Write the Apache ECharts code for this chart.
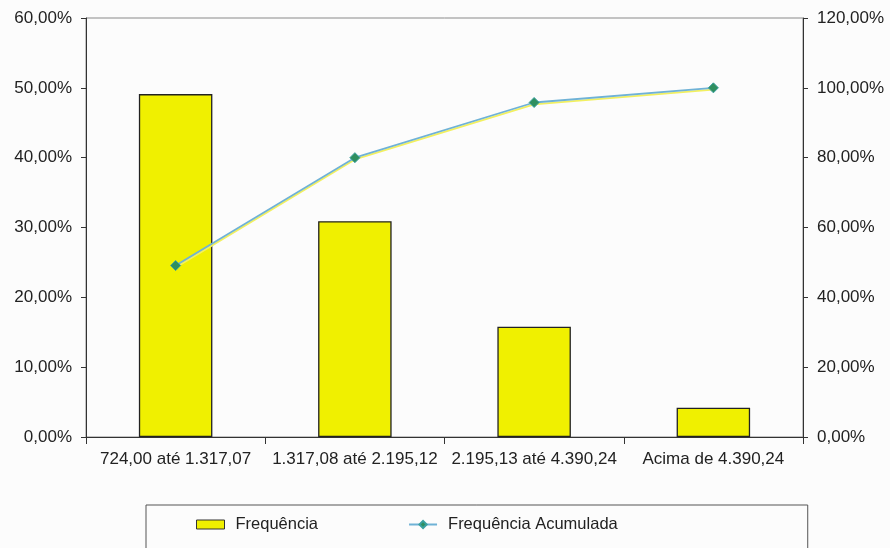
<!DOCTYPE html>
<html>
<head>
<meta charset="utf-8">
<script src="https://cdn.jsdelivr.net/npm/echarts@6/dist/echarts.min.js"></script>
<style>html,body{margin:0;padding:0;background:#fcfcfc}#c{width:890px;height:548px}</style>
</head>
<body>
<div id="c"></div>
<script>
const categories = ['724,00 até 1.317,07', '1.317,08 até 2.195,12', '2.195,13 até 4.390,24', 'Acima de 4.390,24'];
const frequencia = [49.1, 30.9, 15.8, 4.2];
const acumulada = [49.1, 80.0, 95.8, 100.0];
const leftTicks = [0, 10, 20, 30, 40, 50, 60];
const rightTicks = [0, 20, 40, 60, 80, 100, 120];

const fmt = v => v.toFixed(2).replace('.', ',') + '%';
const font = 'Liberation Sans, Arial, sans-serif';
const chart = echarts.init(document.getElementById('c'), null, {renderer: 'canvas'});
chart.setOption({
  backgroundColor: '#fcfcfc',
  animation: false,
  grid: {left: 86, right: 87, top: 18, bottom: 111, show: true, borderColor: '#8a8a8a', borderWidth: 1, backgroundColor: 'transparent'},
  legend: {
    left: 146, top: 505,
    padding: [11, 190, 30, 50],
    itemGap: 90,
    borderColor: '#555', borderWidth: 1,
    textStyle: {fontFamily: font, fontSize: 16.5, color: '#222', padding: [0, 0, 0, 6]},
    data: [
      {name: 'Frequência', icon: 'rect', itemStyle: {color: '#f0f000', borderColor: '#333', borderWidth: 1}},
      {name: 'Frequência Acumulada'}
    ],
    itemWidth: 28, itemHeight: 9
  },
  xAxis: {
    type: 'category', data: categories,
    axisLine: {lineStyle: {color: '#333', width: 1}},
    axisTick: {show: true, length: 7, lineStyle: {color: '#333'}},
    axisLabel: {fontFamily: font, fontSize: 17, color: '#222', margin: 14, interval: 0}
  },
  yAxis: [
    {type: 'value', min: leftTicks[0], max: leftTicks[leftTicks.length - 1], interval: 10,
     axisLine: {show: true, lineStyle: {color: '#333'}},
     axisTick: {show: true, length: 5, lineStyle: {color: '#333'}},
     splitLine: {show: false},
     axisLabel: {formatter: fmt, fontFamily: font, fontSize: 17, color: '#222', margin: 14}},
    {type: 'value', min: rightTicks[0], max: rightTicks[rightTicks.length - 1], interval: 20,
     position: 'right',
     axisLine: {show: true, lineStyle: {color: '#333'}},
     axisTick: {show: true, length: 5, lineStyle: {color: '#333'}},
     splitLine: {show: false},
     axisLabel: {formatter: fmt, fontFamily: font, fontSize: 17, color: '#222', margin: 14}}
  ],
  series: [
    {name: 'Frequência', type: 'bar', data: frequencia, yAxisIndex: 0, barWidth: '41%',
     itemStyle: {color: '#f0f000', borderColor: '#222', borderWidth: 1.3}},
    {name: 'Frequência Acumulada', type: 'line', data: acumulada, yAxisIndex: 1,
     symbol: 'diamond', symbolSize: 10,
     lineStyle: {color: '#6fb2d6', width: 1.8, shadowColor: '#f2f060', shadowOffsetY: 1.8, shadowBlur: 0},
     itemStyle: {color: '#2f8f5f', borderColor: '#3aa0a0', borderWidth: 1}}
  ]
});
</script>
</body>
</html>
